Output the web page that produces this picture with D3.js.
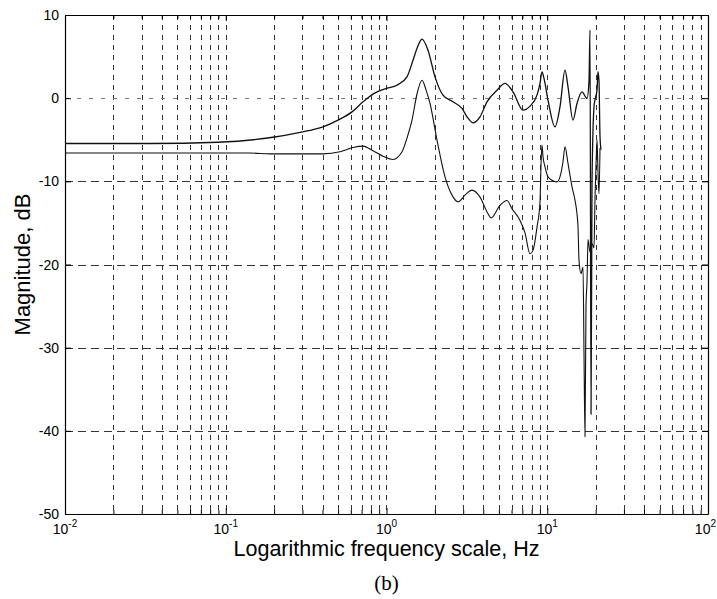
<!DOCTYPE html>
<html>
<head>
<meta charset="utf-8">
<script src="https://cdn.jsdelivr.net/npm/d3@7"></script>
<style>
  html, body { margin: 0; padding: 0; background: #fff; }
  svg { display: block; }
</style>
</head>
<body>
<svg id="chart" width="717" height="599"></svg>
<script>
// ---- Data ----
const xDomain = [0.01, 100];
const yDomain = [-50, 10];
const yTicks = [-50, -40, -30, -20, -10, 0, 10];
const xTickExponents = [-2, -1, 0, 1, 2];

// upper curve: frequency (Hz) and magnitude (dB)
const upperFreq = [0.01, 0.0338, 0.0895, 0.1967, 0.2896, 0.4027, 0.4993, 0.6101, 0.7144, 0.8242,
  1.0, 1.162, 1.341, 1.462, 1.570, 1.663, 1.812, 2.003, 2.246, 2.593, 2.949, 3.168, 3.452,
  3.817, 4.219, 4.869, 5.461, 6.123, 7.066, 7.809, 8.635, 9.014, 9.276, 9.545, 10.11, 11.17,
  12.00, 12.90, 13.46, 14.46, 15.31, 16.45, 17.68, 18.19, 18.45, 18.72, 18.99, 19.54, 19.82,
  20.40, 20.69, 20.99, 21.29, 21.60];
const upperDb = [-5.45, -5.45, -5.3, -4.7, -4.1, -3.45, -2.64, -1.65, -0.44, 0.48,
  1.17, 1.56, 2.56, 4.57, 6.3, 7.1, 5.77, 2.56, 0.36, -0.44, -1.24, -2.24, -2.96,
  -2.24, -0.44, 0.96, 1.77, 0.76, -1.44, -0.96, 0.36, 1.77, 3.17, 2.37, -0.24, -3.45,
  -1.04, 3.37, 1.37, -2.64, -0.64, 0.76, -0.04, 2.16, 8.2, -38, -10, -1, -0.2,
  1.0, 3.2, 2.0, -4.6, -6.2];

// lower curve: frequency (Hz) and magnitude (dB)
const lowerFreq = [0.01, 0.1416, 0.1885, 0.4027, 0.5137, 0.6188, 0.7144, 0.8242, 0.951, 1.098,
  1.249, 1.341, 1.441, 1.548, 1.663, 1.761, 1.865, 2.062, 2.312, 2.556, 2.785, 3.078, 3.403,
  3.817, 4.280, 4.467, 5.083, 5.618, 6.036, 6.769, 7.271, 7.809, 8.155, 8.635, 9.014, 9.145,
  9.276, 9.409, 9.683, 10.11, 10.70, 11.50, 12.00, 12.53, 12.90, 13.46, 14.26, 14.88, 15.31,
  15.54, 15.76, 16.22, 16.69, 16.93, 17.17, 17.42, 17.68, 17.93, 18.45, 18.99, 19.54, 19.82,
  20.11, 20.40, 20.69, 20.99, 21.29];
const lowerDb = [-6.6, -6.6, -6.7, -6.7, -6.45, -5.93, -5.77, -6.33, -6.97, -7.37,
  -6.45, -4.8, -2.64, 0.5, 2.16, 1.0, -0.64, -5.05, -9.46, -11.66, -12.46, -11.66, -11.06,
  -11.9, -13.9, -14.4, -12.9, -12.3, -13.3, -14.7, -16.2, -18.7, -18.3, -15.5, -12.5, -8,
  -5.65, -7.05, -8.25, -9.46, -9.86, -10.06, -9.46, -7.65, -5.85, -7.85, -10.66, -12.26, -13.9,
  -15.5, -19.5, -21.1, -20.3, -30.7, -40.7, -25, -22, -17, -18.5, -17.5, -18, -12,
  -8, -5, -9, -11.5, -6];

// ---- Chart ----
const svg = d3.select("#chart");
const mLeft = 65, mRight = 708, mTop = 15, mBottom = 514;
const x = d3.scaleLog().domain(xDomain).range([mLeft, mRight]);
const y = d3.scaleLinear().domain(yDomain).range([mBottom, mTop]);
const font = "'Liberation Sans', Arial, Helvetica, sans-serif";

// all log tick positions (1..9 × decade)
const logTicks = [];
for (let e = xTickExponents[0]; e < xTickExponents[xTickExponents.length - 1]; e++) {
  for (let m = 1; m <= 9; m++) logTicks.push(m * Math.pow(10, e));
}
logTicks.push(Math.pow(10, xTickExponents[xTickExponents.length - 1]));

// grid
const grid = svg.append("g");
grid.selectAll("line.vg").data(logTicks.filter(d => d > xDomain[0] * 1.001 && d < xDomain[1] * 0.999))
  .enter().append("line")
  .attr("x1", d => Math.round(x(d)) + 0.5).attr("x2", d => Math.round(x(d)) + 0.5)
  .attr("y1", mTop).attr("y2", mBottom)
  .attr("stroke", "#333").attr("stroke-width", 1).attr("stroke-dasharray", "5,5");
grid.selectAll("line.hg").data(yTicks.filter(d => d > yDomain[0] && d < yDomain[1]))
  .enter().append("line")
  .attr("x1", mLeft).attr("x2", mRight)
  .attr("y1", d => Math.round(y(d)) + 0.5).attr("y2", d => Math.round(y(d)) + 0.5)
  .attr("stroke", d => d === 0 ? "#777" : "#333").attr("stroke-width", 1)
  .attr("stroke-dasharray", d => d === 0 ? "4,8" : "8,5");

// axes (ticks inward, box)
const isMajor = d => Math.abs(Math.log10(d) - Math.round(Math.log10(d))) < 1e-9;
const bottomAxis = d3.axisBottom(x).tickValues(logTicks).tickFormat("")
  .tickSizeInner(-4).tickSizeOuter(0);
const topAxis = d3.axisTop(x).tickValues(logTicks).tickFormat("")
  .tickSizeInner(-4).tickSizeOuter(0);
const leftAxis = d3.axisLeft(y).tickValues(yTicks).tickFormat("")
  .tickSizeInner(-6).tickSizeOuter(0);
const rightAxis = d3.axisRight(y).tickValues(yTicks).tickFormat("")
  .tickSizeInner(-6).tickSizeOuter(0);

const gB = svg.append("g").attr("transform", `translate(0,${mBottom})`).call(bottomAxis);
const gT = svg.append("g").attr("transform", `translate(0,${mTop})`).call(topAxis);
const gL = svg.append("g").attr("transform", `translate(${mLeft},0)`).call(leftAxis);
const gR = svg.append("g").attr("transform", `translate(${mRight},0)`).call(rightAxis);
gB.selectAll(".tick line").attr("y2", d => isMajor(d) ? -6 : -4);
gT.selectAll(".tick line").attr("y2", d => isMajor(d) ? 6 : 4);
[gB, gT, gL, gR].forEach(g => {
  g.selectAll("path.domain").attr("stroke", "#000").attr("stroke-width", 1.2);
  g.selectAll(".tick line").attr("stroke", "#000");
});

// y tick labels
svg.append("g").selectAll("text").data(yTicks).enter().append("text")
  .attr("x", mLeft - 6).attr("y", d => y(d) + 5)
  .attr("text-anchor", "end")
  .style("font-family", font).style("font-size", "14px").attr("fill", "#000")
  .text(d => d);

// x tick labels 10^n (last one kept inside the page)
const lastExp = xTickExponents[xTickExponents.length - 1];
const xl = svg.append("g").selectAll("text").data(xTickExponents).enter().append("text")
  .attr("x", d => d === lastExp ? 716 : x(Math.pow(10, d)))
  .attr("y", mBottom + 20)
  .attr("text-anchor", d => d === lastExp ? "end" : "middle")
  .style("font-family", font).style("font-size", "14px").attr("fill", "#000");
xl.append("tspan").text("10");
xl.append("tspan").attr("dy", -7).style("font-size", "10px").text(d => d);

// curves
const line = d3.line().x(d => x(d[0])).y(d => y(d[1])).curve(d3.curveMonotoneX);
const upper = upperFreq.map((f, i) => [f, upperDb[i]]);
const lower = lowerFreq.map((f, i) => [f, lowerDb[i]]);
svg.append("path").datum(lower).attr("d", line)
  .attr("fill", "none").attr("stroke", "#111").attr("stroke-width", 1.1);
svg.append("path").datum(upper).attr("d", line)
  .attr("fill", "none").attr("stroke", "#111").attr("stroke-width", 1.3);

// axis titles
svg.append("text")
  .attr("x", (mLeft + mRight) / 2).attr("y", 556)
  .attr("text-anchor", "middle")
  .style("font-family", font).style("font-size", "21.5px").attr("fill", "#000")
  .text("Logarithmic frequency scale, Hz");
svg.append("text")
  .attr("transform", `translate(30,${(mTop + mBottom) / 2}) rotate(-90)`)
  .attr("text-anchor", "middle")
  .style("font-family", font).style("font-size", "22px").attr("fill", "#000")
  .text("Magnitude, dB");
svg.append("text")
  .attr("x", (mLeft + mRight) / 2).attr("y", 590)
  .attr("text-anchor", "middle")
  .style("font-family", "'Liberation Serif', 'Times New Roman', serif").style("font-size", "21px")
  .attr("fill", "#000")
  .text("(b)");
</script>
</body>
</html>
